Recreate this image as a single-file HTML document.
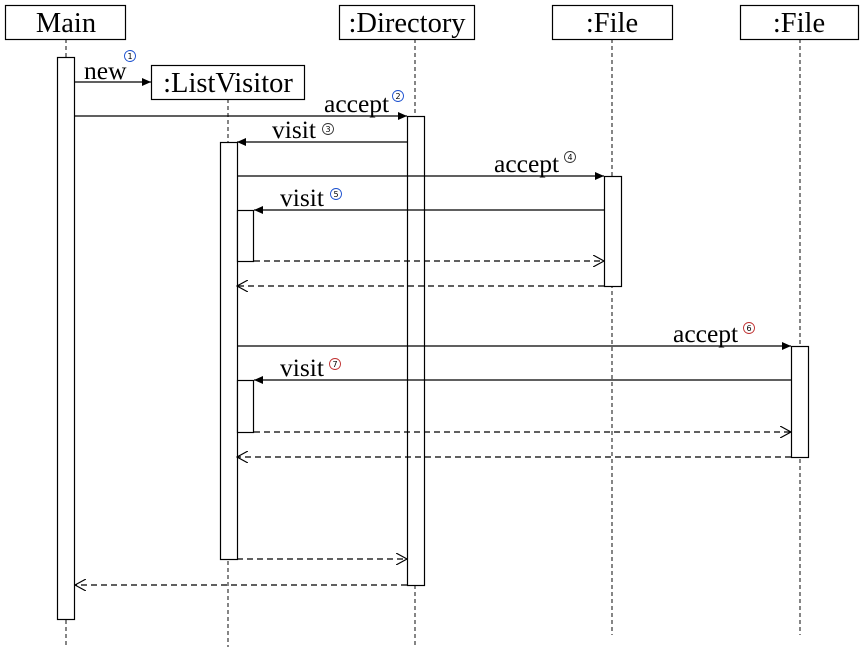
<!DOCTYPE html>
<html><head><meta charset="utf-8"><style>
html,body{margin:0;padding:0;background:#fff;width:866px;height:647px;overflow:hidden}
text{font-family:"Liberation Serif",serif;fill:#000}
.b{font-size:28.5px}.m{font-size:25.5px}.c{font-family:"DejaVu Sans",sans-serif}
</style></head><body>
<svg width="866" height="647" viewBox="0 0 866 647" xmlns="http://www.w3.org/2000/svg">
<defs>
<marker id="f" markerWidth="10" markerHeight="8" refX="9" refY="4" orient="auto" markerUnits="userSpaceOnUse"><path d="M0,0 L9,4 L0,8z" fill="#000"/></marker>
<marker id="o" markerWidth="12" markerHeight="12" refX="11" refY="6" orient="auto" markerUnits="userSpaceOnUse"><path d="M0,0 L11,6 L0,12" fill="none" stroke="#000" stroke-width="1.2"/></marker>
</defs>
<g stroke="#444" stroke-width="1.3" stroke-dasharray="4,3" fill="none">
<line x1="66" y1="39" x2="66" y2="647"/>
<line x1="228" y1="99" x2="228" y2="647"/>
<line x1="415" y1="39" x2="415" y2="647"/>
<line x1="612" y1="39" x2="612" y2="635"/>
<line x1="800" y1="39" x2="800" y2="635"/>
</g>
<g stroke="#000" stroke-width="1.2" fill="#fff">
<rect x="5.5" y="5.5" width="120" height="34"/>
<rect x="339.5" y="5.5" width="135" height="34"/>
<rect x="552.5" y="5.5" width="120" height="34"/>
<rect x="740.5" y="5.5" width="118" height="34"/>
<rect x="151.5" y="65.5" width="153" height="34"/>
<rect x="57.5" y="57.5" width="17" height="562"/>
<rect x="407.5" y="116.5" width="17" height="469"/>
<rect x="220.5" y="142.5" width="17" height="417"/>
<rect x="604.5" y="176.5" width="17" height="110"/>
<rect x="791.5" y="346.5" width="17" height="111"/>
<rect x="237.5" y="210.5" width="16" height="51"/>
<rect x="237.5" y="380.5" width="16" height="52"/>
</g>
<text class="b" x="66" y="32" text-anchor="middle">Main</text>
<text class="b" x="407" y="32" text-anchor="middle">:Directory</text>
<text class="b" x="612" y="32" text-anchor="middle">:File</text>
<text class="b" x="799" y="32" text-anchor="middle">:File</text>
<text class="b" x="228" y="92" text-anchor="middle">:ListVisitor</text>
<g stroke="#000" stroke-width="1.3" fill="none">
<line x1="75" y1="82" x2="151" y2="82" marker-end="url(#f)"/>
<line x1="75" y1="116" x2="407" y2="116" marker-end="url(#f)"/>
<line x1="407" y1="142" x2="237" y2="142" marker-end="url(#f)"/>
<line x1="237" y1="176" x2="604" y2="176" marker-end="url(#f)"/>
<line x1="604" y1="210" x2="254" y2="210" marker-end="url(#f)"/>
<line x1="237" y1="346" x2="791" y2="346" marker-end="url(#f)"/>
<line x1="791" y1="380" x2="254" y2="380" marker-end="url(#f)"/>
</g>
<g stroke="#000" stroke-width="1.3" fill="none" stroke-dasharray="6,4">
<line x1="254" y1="261" x2="604" y2="261" marker-end="url(#o)"/>
<line x1="604" y1="286" x2="237" y2="286" marker-end="url(#o)"/>
<line x1="254" y1="432" x2="791" y2="432" marker-end="url(#o)"/>
<line x1="791" y1="457" x2="237" y2="457" marker-end="url(#o)"/>
<line x1="237" y1="559" x2="407" y2="559" marker-end="url(#o)"/>
<line x1="407" y1="585" x2="75" y2="585" marker-end="url(#o)"/>
</g>
<text class="m" x="84" y="79">new</text>
<text class="m" x="324" y="112">accept</text>
<text class="m" x="272" y="138">visit</text>
<text class="m" x="494" y="172">accept</text>
<text class="m" x="280" y="206">visit</text>
<text class="m" x="673" y="342">accept</text>
<text class="m" x="280" y="376">visit</text>
<g fill="none" stroke-width="0.9">
<circle cx="130" cy="56" r="5.5" stroke="#1a4fcf"/>
<circle cx="398" cy="96" r="5.5" stroke="#1a4fcf"/>
<circle cx="328" cy="129" r="5.5" stroke="#333"/>
<circle cx="570" cy="157" r="5.5" stroke="#333"/>
<circle cx="336" cy="194" r="5.5" stroke="#1a4fcf"/>
<circle cx="749" cy="328" r="5.5" stroke="#c03030"/>
<circle cx="335" cy="364" r="5.5" stroke="#c03030"/>
</g>
<g class="c" text-anchor="middle" font-size="8">
<text class="c" x="130" y="59" text-anchor="middle" font-size="8">1</text>
<text class="c" x="398" y="99" text-anchor="middle" font-size="8">2</text>
<text class="c" x="328" y="132" text-anchor="middle" font-size="8">3</text>
<text class="c" x="570" y="160" text-anchor="middle" font-size="8">4</text>
<text class="c" x="336" y="197" text-anchor="middle" font-size="8">5</text>
<text class="c" x="749" y="331" text-anchor="middle" font-size="8">6</text>
<text class="c" x="335" y="367" text-anchor="middle" font-size="8">7</text>
</g>
</svg>
</body></html>
